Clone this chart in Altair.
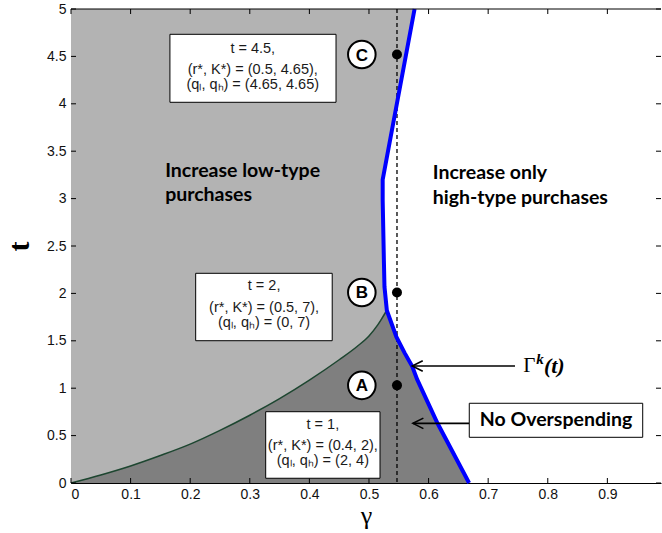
import altair as alt
import pandas as pd

# ---------------- data ----------------
# boundary Gamma^k(t), listed by increasing t
blue_g = [0.668, 0.615, 0.581, 0.5725, 0.560, 0.546, 0.530, 0.526, 0.525, 0.523, 0.523, 0.5765]
blue_t = [0.0, 0.63, 1.09, 1.23, 1.37, 1.54, 1.82, 2.07, 2.35, 2.98, 3.20, 5.0]

# green curve (upper edge of the "no overspending" region)
green_g = [0.0, 0.05, 0.1, 0.15, 0.2, 0.25, 0.3, 0.35, 0.4, 0.45, 0.48, 0.5, 0.515, 0.530]
green_t = [0.0, 0.085, 0.18, 0.29, 0.41, 0.555, 0.715, 0.89, 1.085, 1.30, 1.44, 1.55, 1.67, 1.82]

# example points A, B, C on gamma = 0.547
pt_g = [0.547, 0.547, 0.547]
pt_t = [4.52, 2.01, 1.03]
pt_names = ["C", "B", "A"]
circ_g = [0.488, 0.488, 0.488]

x_ticks = [0, 0.1, 0.2, 0.3, 0.4, 0.5, 0.6, 0.7, 0.8, 0.9]
y_ticks = [0, 0.5, 1, 1.5, 2, 2.5, 3, 3.5, 4, 4.5, 5]

box_lines = {
    "C": ["t = 4.5,", "(r*, K*) = (0.5, 4.65),", "(qₗ, qₕ) = (4.65, 4.65)"],
    "B": ["t = 2,", "(r*, K*) = (0.5, 7),", "(qₗ, qₕ) = (0, 7)"],
    "A": ["t = 1,", "(r*, K*) = (0.4, 2),", "(qₗ, qₕ) = (2, 4)"],
}

# ---------------- layout ----------------
W, H = 590, 474
XDOM = [0, 0.99]
YDOM = [0, 5]

xs = alt.Scale(domain=XDOM, nice=False, zero=False)
ys = alt.Scale(domain=YDOM, nice=False, zero=False)

xa = alt.Axis(values=x_ticks, format=".1~f", ticks=False, tickSize=0,
              grid=False, domainColor="black", labelPadding=4,
              labelFont="Liberation Sans", labelFontSize=14, labelColor="#111",
              titleFont="Liberation Serif", titleFontSize=26,
              titleFontWeight="normal", titlePadding=1, titleColor="black")
ya = alt.Axis(values=y_ticks, format=".1~f", ticks=False, tickSize=0,
              grid=False, domainColor="black", labelPadding=5,
              labelFont="Liberation Sans", labelFontSize=14, labelColor="#111",
              titleFont="Liberation Serif", titleFontSize=30,
              titleFontWeight="bold", titlePadding=12, titleColor="black")

blue_df = pd.DataFrame({"g": blue_g, "t": blue_t})
blue_df["zero"] = 0.0
dark_pts = list(zip(green_g, green_t)) + [
    (g, t) for g, t in reversed(list(zip(blue_g, blue_t))) if t < green_t[-1]
]
dark_df = pd.DataFrame(dark_pts, columns=["g", "t"])
dark_df["zero"] = 0.0
green_df = pd.DataFrame({"g": green_g, "t": green_t})


def X(f="g"):
    return alt.X(f + ":Q", scale=xs, axis=xa, title="γ")


def Y(f="t"):
    return alt.Y(f + ":Q", scale=ys, axis=ya, title="t")


light = alt.Chart(blue_df).mark_area(orient="horizontal", color="#b3b3b3", opacity=1).encode(
    y=Y(), x=X(), x2="zero:Q")

dark = alt.Chart(dark_df).mark_area(color="#7f7f7f", opacity=1, interpolate="monotone").encode(
    x=X(), y=Y(), y2="zero:Q")

green = alt.Chart(green_df).mark_line(color="#1d4630", strokeWidth=1.5, interpolate="monotone").encode(
    x=X(), y=Y(), order=alt.Order("g:Q"))

dashed = alt.Chart(pd.DataFrame({"g": [pt_g[0]]})).mark_rule(
    color="black", strokeDash=[4, 3], strokeWidth=1.3).encode(
    x=X(), y=alt.value(0), y2=alt.value(H))

blue = alt.Chart(blue_df).mark_line(color="#0000ff", strokeWidth=4).encode(
    x=X(), y=Y(), order=alt.Order("t:Q"))

# inward ticks (MATLAB style)
xt = pd.DataFrame({"g": x_ticks})
yt = pd.DataFrame({"t": y_ticks})
tick_b = alt.Chart(xt).mark_rule(color="black").encode(x=X(), y=alt.value(H), y2=alt.value(H - 5))
tick_t = alt.Chart(xt).mark_rule(color="black").encode(x=X(), y=alt.value(0), y2=alt.value(5))
tick_l = alt.Chart(yt).mark_rule(color="black").encode(y=Y(), x=alt.value(0), x2=alt.value(5))
tick_r = alt.Chart(yt).mark_rule(color="black").encode(y=Y(), x=alt.value(W - 5), x2=alt.value(W))
top_line = alt.Chart(xt.head(1)).mark_rule(color="black").encode(
    x=alt.value(0), x2=alt.value(W), y=alt.value(0))

# arrows
arr_df = pd.DataFrame({"g": [0.745, 0.6683], "g2": [0.5726, 0.5737], "t": [1.234, 0.629]})
arr_lines = alt.Chart(arr_df).mark_rule(color="black", strokeWidth=1.6).encode(
    x=X(), x2="g2:Q", y=Y())
arr_heads = alt.Chart(arr_df).mark_point(
    shape="M2,-1L0,0L2,1", filled=False, color="black", strokeWidth=1.6, size=110, opacity=1
).encode(x=X("g2"), y=Y())

# boxes
box_df = pd.DataFrame({
    "g": [0.166, 0.2092, 0.3267, 0.6683],
    "g2": [0.4447, 0.4383, 0.5185, 0.9593],
    "t": [4.733, 2.212, 0.752, 0.841],
    "t2": [4.016, 1.501, 0.05, 0.482],
})
boxes = alt.Chart(box_df).mark_rect(fill="white", stroke="black", strokeWidth=1).encode(
    x=X(), x2="g2:Q", y=Y(), y2="t2:Q")

box_centers = {"C": (0.305, [4.578, 4.36, 4.195]),
               "B": (0.324, [2.073, 1.845, 1.690]),
               "A": (0.4226, [0.612, 0.390, 0.228])}
rows = []
for k, (gc, tl) in box_centers.items():
    for line, tt in zip(box_lines[k], tl):
        rows.append({"g": gc, "t": tt, "txt": line})
box_text = alt.Chart(pd.DataFrame(rows)).mark_text(
    font="Liberation Sans", fontSize=14.5, color="#1a1a1a", align="center", baseline="middle"
).encode(x=X(), y=Y(), text="txt:N")

# region labels
reg_df = pd.DataFrame({
    "g": [0.158, 0.158, 0.607, 0.607],
    "t": [3.294, 3.037, 3.267, 3.003],
    "txt": ["Increase low-type", "purchases", "Increase only", "high-type purchases"],
})
reg_text = alt.Chart(reg_df).mark_text(
    font="Lato", fontSize=19.5, fontWeight="bold", color="black", align="left", baseline="middle"
).encode(x=X(), y=Y(), text="txt:N")

no_over = alt.Chart(pd.DataFrame({"g": [0.8138], "t": [0.661], "txt": ["No Overspending"]})).mark_text(
    font="Lato", fontSize=19.5, fontWeight="bold", color="black", align="center", baseline="middle"
).encode(x=X(), y=Y(), text="txt:N")

# Gamma^k(t) label
gam = alt.Chart(pd.DataFrame({"g": [0.759], "t": [1.237], "txt": ["Γ"]})).mark_text(
    font="Liberation Serif", fontSize=21, color="black", align="left", baseline="middle"
).encode(x=X(), y=Y(), text="txt:N")
gam_k = alt.Chart(pd.DataFrame({"g": [0.7805], "t": [1.31], "txt": ["k"]})).mark_text(
    font="Liberation Serif", fontSize=15, fontWeight="bold", fontStyle="italic", color="black",
    align="left", baseline="middle"
).encode(x=X(), y=Y(), text="txt:N")
gam_t = alt.Chart(pd.DataFrame({"g": [0.7935], "t": [1.237], "txt": ["(t)"]})).mark_text(
    font="Liberation Serif", fontSize=22, fontWeight="bold", fontStyle="italic", color="black",
    align="left", baseline="middle"
).encode(x=X(), y=Y(), text="txt:N")

# points and lettered circles
pts_df = pd.DataFrame({"g": pt_g, "t": pt_t, "cg": circ_g, "name": pt_names})
dots = alt.Chart(pts_df).mark_point(shape="circle", filled=True, color="black", size=100, opacity=1).encode(
    x=X(), y=Y())
circles = alt.Chart(pts_df).mark_point(shape="circle", filled=True, fill="white", stroke="black",
                                       strokeWidth=2, size=760, opacity=1).encode(x=X("cg"), y=Y())
letters = alt.Chart(pts_df).mark_text(font="Liberation Sans", fontSize=17, fontWeight="bold",
                                      color="black", align="center", baseline="middle", dy=1).encode(
    x=X("cg"), y=Y(), text="name:N")

chart = alt.layer(
    light, dark, green, dashed, blue,
    tick_b, tick_t, tick_l, tick_r, top_line,
    arr_lines, arr_heads, boxes, box_text, reg_text, no_over, gam, gam_k, gam_t,
    dots, circles, letters,
).properties(
    width=W, height=H, autosize="none",
    padding={"left": 71, "top": 9, "right": 1, "bottom": 50},
    background="white",
).configure_view(stroke=None)

chart.save("out.html", embed_options={"renderer": "svg", "actions": False})
